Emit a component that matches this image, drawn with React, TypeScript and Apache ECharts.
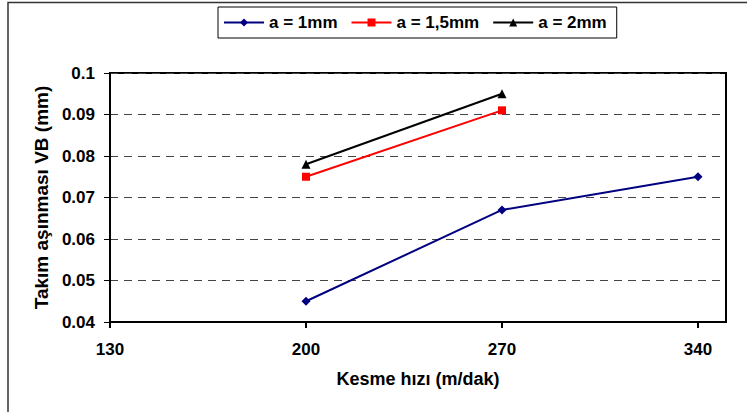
import React, { useEffect, useRef } from "react";
import * as echarts from "echarts";

const xTicks = [130, 200, 270, 340];
const seriesNames = ["a = 1mm", "a = 1,5mm", "a = 2mm"];
const a1 = [[200, 0.045], [270, 0.067], [340, 0.075]];
const a15 = [[200, 0.075], [270, 0.091]];
const a2 = [[200, 0.078], [270, 0.095]];

const FONT = "Liberation Sans, Arial, sans-serif";

export default function App() {
  const ref = useRef<HTMLDivElement>(null);
  useEffect(() => {
    const chart = echarts.init(ref.current!, null, { renderer: "svg" });
    chart.setOption({
      animation: false,
      backgroundColor: "#ffffff",
      textStyle: { fontFamily: FONT },
      graphic: [
        {
          type: "rect",
          shape: { x: 8, y: 2.5, width: 800, height: 500 },
          style: { fill: "none", stroke: "#333", lineWidth: 1.5 },
          silent: true,
        },
      ],
      legend: {
        left: 218,
        top: 7,
        padding: [7, 10, 7, 5],
        borderColor: "#000",
        borderWidth: 1,
        itemWidth: 40,
        itemHeight: 10,
        itemGap: 13,
        textStyle: { fontFamily: FONT, fontWeight: "bold", fontSize: 17, color: "#000" },
        data: seriesNames,
      },
      grid: {
        left: 110,
        top: 73,
        width: 616,
        height: 249,
        show: true,
        borderColor: "#000",
        borderWidth: 2,
        backgroundColor: "transparent",
      },
      xAxis: {
        type: "value",
        min: 130,
        max: 350,
        interval: 70,
        name: "Kesme hızı (m/dak)",
        nameLocation: "middle",
        nameGap: 48,
        nameTextStyle: { fontFamily: FONT, fontWeight: "bold", fontSize: 18, color: "#000" },
        axisLine: { show: true, lineStyle: { color: "#000", width: 2 } },
        axisTick: { show: true, length: 6, customValues: xTicks, lineStyle: { color: "#000", width: 2 } },
        axisLabel: {
          customValues: xTicks,
          margin: 19,
          fontFamily: FONT,
          fontWeight: "bold",
          fontSize: 17,
          color: "#000",
        },
        splitLine: { show: false },
      },
      yAxis: {
        type: "value",
        min: 0.04,
        max: 0.1,
        interval: 0.01,
        name: "Takım aşınması VB (mm)",
        nameLocation: "middle",
        nameGap: 57,
        nameTextStyle: { fontFamily: FONT, fontWeight: "bold", fontSize: 19, color: "#000" },
        axisLine: { show: true, lineStyle: { color: "#000", width: 2 } },
        axisTick: { show: true, length: 6, lineStyle: { color: "#000", width: 1 } },
        axisLabel: {
          margin: 15,
          fontFamily: FONT,
          fontWeight: "bold",
          fontSize: 17,
          color: "#000",
          formatter: (v: number) => String(Math.round(v * 100) / 100),
        },
        splitLine: { show: true, lineStyle: { color: "#444", width: 1, type: [8, 6] } },
      },
      series: [
        {
          name: seriesNames[0],
          type: "line",
          data: a1,
          symbol: "diamond",
          symbolSize: 9,
          itemStyle: { color: "#000080" },
          lineStyle: { color: "#000080", width: 2 },
        },
        {
          name: seriesNames[1],
          type: "line",
          data: a15,
          symbol: "rect",
          symbolSize: 8,
          itemStyle: { color: "#ff0000" },
          lineStyle: { color: "#ff0000", width: 2 },
        },
        {
          name: seriesNames[2],
          type: "line",
          data: a2,
          symbol: "triangle",
          symbolSize: 9,
          itemStyle: { color: "#000000" },
          lineStyle: { color: "#000000", width: 2 },
        },
      ],
    });
    return () => chart.dispose();
  }, []);
  return (
    <div
      ref={ref}
      style={{ position: "absolute", left: 0, top: 0, width: 747, height: 412 }}
    />
  );
}
